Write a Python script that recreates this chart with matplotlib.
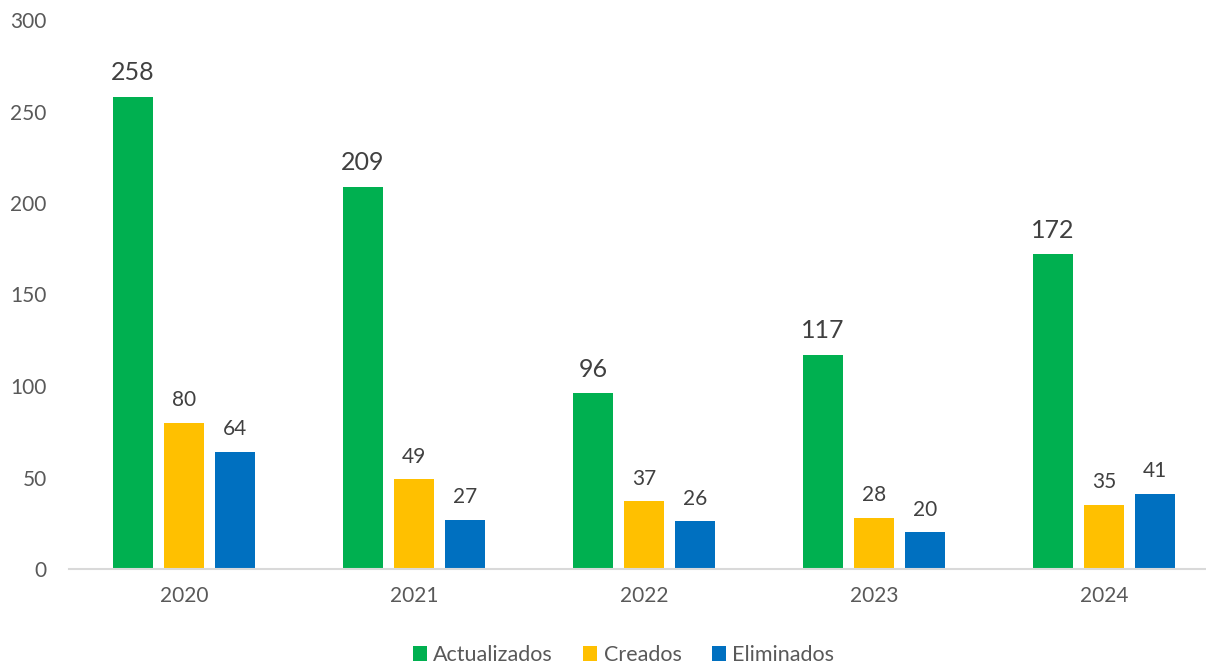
import matplotlib
matplotlib.use('Agg')
import matplotlib.pyplot as plt
import numpy as np

years = ['2020', '2021', '2022', '2023', '2024']
actualizados = [258, 209, 96, 117, 172]
creados = [80, 49, 37, 28, 35]
eliminados = [64, 27, 26, 20, 41]

plt.rcParams['font.family'] = ['Lato', 'DejaVu Sans']

fig = plt.figure(figsize=(12.06, 6.64), dpi=100)
ax = fig.add_axes([69 / 1206, 1 - 569 / 664, 1150 / 1206, 549 / 664])

x = np.arange(len(years))
width = 0.174
step = 0.222

rects1 = ax.bar(x - step, actualizados, width, color='#00B050', label='Actualizados')
rects2 = ax.bar(x, creados, width, color='#FFC000', label='Creados')
rects3 = ax.bar(x + step, eliminados, width, color='#0070C0', label='Eliminados')

ax.set_xlim(-0.5, 4.5)
ax.set_ylim(0, 300)
ax.set_yticks(range(0, 301, 50))
ax.set_xticks(x)
ax.set_xticklabels(years)

for s in ['top', 'right', 'left']:
    ax.spines[s].set_visible(False)
ax.spines['bottom'].set_color('#D9D9D9')
ax.spines['bottom'].set_linewidth(1.5)
ax.tick_params(axis='both', length=0, labelsize=15, labelcolor='#595959')
ax.tick_params(axis='y', pad=16)
ax.tick_params(axis='x', pad=12)


def autolabel(rects, size):
    for rect in rects:
        height = rect.get_height()
        ax.annotate('{}'.format(height),
                    xy=(rect.get_x() + rect.get_width() / 2, height),
                    xytext=(0, 9),
                    textcoords="offset points",
                    ha='center', va='bottom', fontsize=size, color='#404040')


autolabel(rects1, 18)
autolabel(rects2, 15)
autolabel(rects3, 15)

fig.legend(loc='lower center', bbox_to_anchor=(0.517, -0.031), ncol=3, frameon=False,
           fontsize=15.5, handlelength=0.65, handleheight=0.65, handletextpad=0.3,
           columnspacing=1.4, labelcolor='#595959')

plt.savefig('out.png')
